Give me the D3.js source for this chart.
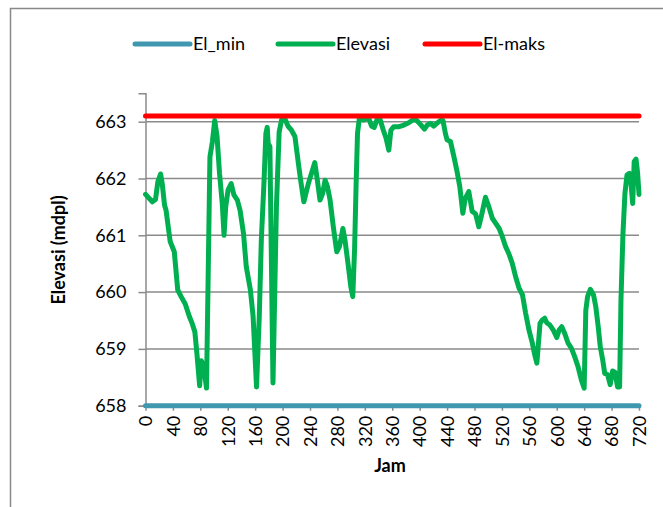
<!DOCTYPE html>
<html>
<head>
<meta charset="utf-8">
<script src="https://cdn.jsdelivr.net/npm/d3@7"></script>
<style>
  html, body { margin: 0; padding: 0; background: #fff; }
  svg { display: block; font-family: Lato, "Open Sans", sans-serif; }
</style>
</head>
<body>
<svg id="chart" width="663" height="507"></svg>
<script>
// ---- data ----
const seriesNames = ["El_min", "Elevasi", "El-maks"];
const elMin = 658;
const elMaks = 663.1;
const jam = [0, 10, 14.6, 18, 22, 24.4, 27.8, 30, 36, 42, 47, 52, 58, 64, 68, 72, 75, 79, 81.5, 85, 89,
  94, 97.6, 101, 104.4, 108, 112, 114.6, 117, 120.5, 125, 129, 134, 138, 143, 147, 153, 157, 162, 166,
  169, 173, 175.6, 177.6, 179, 181.5, 186, 191, 195, 198.5, 203, 208, 213, 218, 223, 226, 231, 237.6,
  247, 250.7, 254.6, 258.5, 262, 265.4, 269.3, 274, 279, 283, 288, 291, 296, 299.5, 302.4, 305, 307.3,
  309.3, 312, 318, 325, 330, 333.7, 338.5, 342.5, 347, 351, 355, 358, 362, 369, 377, 384, 391, 396,
  402, 407, 411, 416, 420.5, 425, 430, 434, 437.6, 440, 445, 450, 454.6, 458.5, 463, 466.5, 471.7,
  476.6, 481.5, 486.3, 491, 496, 501, 506, 511, 516, 520.5, 525.4, 530, 535, 540, 545, 550, 554.6,
  559.5, 564.4, 568, 571, 575.6, 579, 582.4, 585.4, 590, 595, 600, 603.4, 607.3, 611.7, 616.6, 621.5,
  626.3, 631.2, 636, 640, 642.4, 645, 649, 653.7, 657, 660.5, 663.5, 667, 670, 674, 678, 681.5, 685,
  688.8, 691.7, 693.7, 696.6, 699.5, 702.5, 706, 708.3, 710.8, 713, 715.7, 718, 720];
const elevasi = [661.72, 661.59, 661.63, 661.94, 662.08, 661.91, 661.53, 661.44, 660.89, 660.71, 660.04,
  659.92, 659.79, 659.57, 659.45, 659.30, 658.92, 658.35, 658.79, 658.69, 658.31,
  662.38, 662.65, 663.02, 662.74, 662.09, 661.56, 661.00, 661.50, 661.80, 661.91, 661.71, 661.62,
  661.44, 661.03, 660.45, 660.04, 659.57, 658.33, 659.57,
  660.92, 661.97, 662.79, 662.90, 662.62, 662.56, 658.40, 661.50, 662.82, 663.03, 663.06, 662.92,
  662.85, 662.74, 662.27, 662.00, 661.59, 661.91,
  662.28, 661.97, 661.62, 661.74, 661.97, 661.86, 661.62, 661.15, 660.71, 660.80, 661.12, 660.92,
  660.45, 660.10, 659.92, 660.74, 661.91,
  662.79, 663.06, 663.03, 663.08, 662.92, 662.90, 663.06, 663.03, 662.85, 662.71, 662.50, 662.85,
  662.91, 662.91, 662.94, 662.98, 663.04, 663.02,
  662.94, 662.87, 662.94, 662.97, 662.92, 662.97, 663.02, 663.02, 662.79, 662.68, 662.65, 662.38,
  662.12, 661.86, 661.39, 661.65, 661.77,
  661.42, 661.38, 661.15, 661.39, 661.67, 661.50, 661.30, 661.21, 661.12, 660.98, 660.80, 660.68,
  660.51, 660.27, 660.07, 659.95, 659.63,
  659.33, 659.10, 658.89, 658.75, 659.45, 659.51, 659.54, 659.46, 659.42, 659.33, 659.20, 659.33,
  659.39, 659.27, 659.10, 659.01,
  658.86, 658.68, 658.45, 658.31, 659.68, 659.92, 660.05, 659.95, 659.74, 659.39, 659.04, 658.81,
  658.57, 658.55, 658.37, 658.61, 658.59,
  658.33, 658.33, 659.86, 661.03, 661.74, 662.06, 662.09, 661.91, 661.56, 662.30, 662.34, 662.09, 661.72];
const xTicks = [0, 40, 80, 120, 160, 200, 240, 280, 320, 360, 400, 440, 480, 520, 560, 600, 640, 680, 720];
const yTicks = [658, 659, 660, 661, 662, 663];
const xTitle = "Jam";
const yTitle = "Elevasi (mdpl)";

// ---- drawing ----
const colors = {"El_min": "#4097B0", "Elevasi": "#00B050", "El-maks": "#FF0000"};
const svg = d3.select("#chart");

// outer chart border
svg.append("rect").attr("x", 10.5).attr("y", 8.5).attr("width", 700).attr("height", 560)
  .attr("fill", "none").attr("stroke", "#898989").attr("stroke-width", 1.5);

const x = d3.scaleLinear().domain([0, 720]).range([145.5, 639]);
const y = d3.scaleLinear().domain([658, 663.5]).range([405.7, 93.3]);

// gridlines
svg.append("g").selectAll("line").data(yTicks.filter(d => d > 658)).join("line")
  .attr("x1", x(0)).attr("x2", x(720))
  .attr("y1", d => y(d)).attr("y2", d => y(d))
  .attr("stroke", "#8a8a8a").attr("stroke-width", 1.5);

// y axis
const yAxis = svg.append("g").attr("transform", `translate(${x(0)},0)`)
  .call(d3.axisLeft(y).tickValues(yTicks).tickSize(7).tickPadding(12).tickFormat(d3.format("d")));
yAxis.select(".domain").attr("stroke", "#8a8a8a").attr("stroke-width", 1.5);
yAxis.selectAll(".tick line").attr("stroke", "#8a8a8a").attr("stroke-width", 1.5);
yAxis.selectAll("text").attr("font-size", 18).attr("fill", "#000").attr("font-family", "Lato");

// x axis
const xAxis = svg.append("g").attr("transform", `translate(0,${y(658)})`)
  .call(d3.axisBottom(x).tickValues(xTicks).tickSize(5).tickSizeOuter(0).tickFormat(d3.format("d")));
xAxis.select(".domain").attr("stroke", "#8a8a8a").attr("stroke-width", 1.5);
xAxis.selectAll(".tick line").attr("stroke", "#8a8a8a").attr("stroke-width", 1.5);
xAxis.selectAll("text").attr("font-size", 18).attr("fill", "#000").attr("font-family", "Lato")
  .attr("transform", "rotate(-90)")
  .attr("text-anchor", "end").attr("dy", "0.35em").attr("x", -10).attr("y", 0);

// series lines
const line = d3.line().x(d => x(d[0])).y(d => y(d[1]));
svg.append("path").datum([[0, elMin], [720, elMin]]).attr("d", line)
  .attr("fill", "none").attr("stroke", colors["El_min"]).attr("stroke-width", 5).attr("stroke-linecap", "round");
svg.append("path").datum(jam.map((h, i) => [h, elevasi[i]])).attr("d", line)
  .attr("fill", "none").attr("stroke", colors["Elevasi"]).attr("stroke-width", 5)
  .attr("stroke-linejoin", "round").attr("stroke-linecap", "round");
svg.append("path").datum([[0, elMaks], [720, elMaks]]).attr("d", line)
  .attr("fill", "none").attr("stroke", colors["El-maks"]).attr("stroke-width", 5).attr("stroke-linecap", "round");

// axis titles
svg.append("text").attr("x", 390).attr("y", 472).attr("text-anchor", "middle")
  .attr("font-size", 18).attr("font-weight", "bold").attr("font-family", "Lato").text(xTitle);
svg.append("text").attr("transform", "translate(65,250) rotate(-90)").attr("text-anchor", "middle")
  .attr("font-size", 18).attr("font-weight", "bold").attr("font-family", "Lato").text(yTitle);

// legend
const legX = [135, 278, 425];
const lg = svg.append("g");
seriesNames.forEach((name, i) => {
  lg.append("line").attr("x1", legX[i]).attr("x2", legX[i] + 55).attr("y1", 44).attr("y2", 44)
    .attr("stroke", colors[name]).attr("stroke-width", 5).attr("stroke-linecap", "round");
  lg.append("text").attr("x", legX[i] + 58).attr("y", 44).attr("dy", "0.35em")
    .attr("font-size", 18).attr("font-family", "Lato").text(name);
});
</script>
</body>
</html>
